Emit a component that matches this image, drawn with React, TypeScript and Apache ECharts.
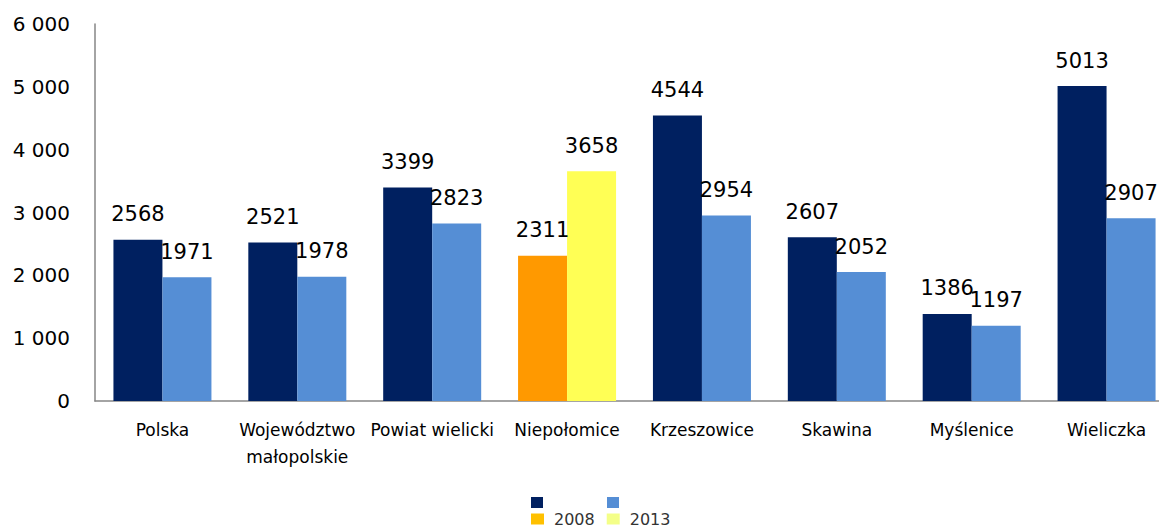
import React, { useEffect, useRef } from "react";
import * as echarts from "echarts";

const categories = [
  "Polska",
  "Województwo\nmałopolskie",
  "Powiat wielicki",
  "Niepołomice",
  "Krzeszowice",
  "Skawina",
  "Myślenice",
  "Wieliczka",
];
const values2008 = [2568, 2521, 3399, 2311, 4544, 2607, 1386, 5013];
const values2013 = [1971, 1978, 2823, 3658, 2954, 2052, 1197, 2907];
const seriesNames = ["2008", "2013"];
const highlightIndex = 3; // Niepołomice

const NAVY = "#002060";
const LIGHT = "#558ED5";
const ORANGE = "#FF9900";
const YELLOW = "#FFFF55";

export default function App() {
  const ref = useRef<HTMLDivElement>(null);
  useEffect(() => {
    if (!ref.current) return;
    const chart = echarts.init(ref.current, null, { renderer: "svg" });
    const mk = (vals: number[], hi: string) =>
      vals.map((v, i) =>
        i === highlightIndex ? { value: v, itemStyle: { color: hi } } : v
      );
    const labelCfg = {
      show: true,
      position: "top",
      distance: 15,
      color: "#000",
      fontFamily: "DejaVu Sans",
      fontSize: 21,
    };
    chart.setOption({
      animation: false,
      backgroundColor: "#fff",
      grid: { left: 95, right: 0, top: 24, bottom: 127, containLabel: false },
      xAxis: {
        type: "category",
        data: categories,
        axisLine: { show: true, lineStyle: { color: "#868686", width: 1.5 } },
        axisTick: { show: false },
        axisLabel: {
          color: "#000",
          fontFamily: "DejaVu Sans",
          fontSize: 17,
          lineHeight: 27,
          margin: 15,
          interval: 0,
        },
      },
      yAxis: {
        type: "value",
        min: 0,
        max: 6000,
        interval: 1000,
        axisLine: { show: true, lineStyle: { color: "#868686", width: 1.5 } },
        axisTick: { show: false },
        splitLine: { show: false },
        axisLabel: {
          color: "#000",
          fontFamily: "DejaVu Sans",
          fontSize: 20,
          margin: 25,
          formatter: (v: number) =>
            String(v).replace(/\B(?=(\d{3})+(?!\d))/g, " "),
        },
      },
      legend: {
        left: 531,
        top: 511,
        padding: 0,
        itemWidth: 13,
        itemHeight: 11,
        itemGap: 12,
        icon: "rect",
        textStyle: {
          color: "#333",
          fontFamily: "DejaVu Sans",
          fontSize: 16,
          padding: [0, 0, 0, 5],
        },
        data: [
          { name: seriesNames[0], itemStyle: { color: "#FFC000" } },
          { name: seriesNames[1], itemStyle: { color: "#F4FF88" } },
        ],
        selectedMode: false,
      },
      graphic: [
        { type: "rect", left: 531, top: 497, shape: { width: 12, height: 11 }, style: { fill: NAVY } },
        { type: "rect", left: 607, top: 497, shape: { width: 12, height: 11 }, style: { fill: LIGHT } },
      ],
      series: [
        {
          name: seriesNames[0],
          type: "bar",
          data: mk(values2008, ORANGE),
          itemStyle: { color: NAVY },
          barWidth: 49,
          barGap: "0%",
          label: labelCfg,
        },
        {
          name: seriesNames[1],
          type: "bar",
          data: mk(values2013, YELLOW),
          itemStyle: { color: LIGHT },
          barWidth: 49,
          barGap: "0%",
          label: labelCfg,
        },
      ],
    });
    return () => chart.dispose();
  }, []);
  return (
    <div
      ref={ref}
      style={{ position: "fixed", left: 0, top: 0, width: 1174, height: 528 }}
    />
  );
}
